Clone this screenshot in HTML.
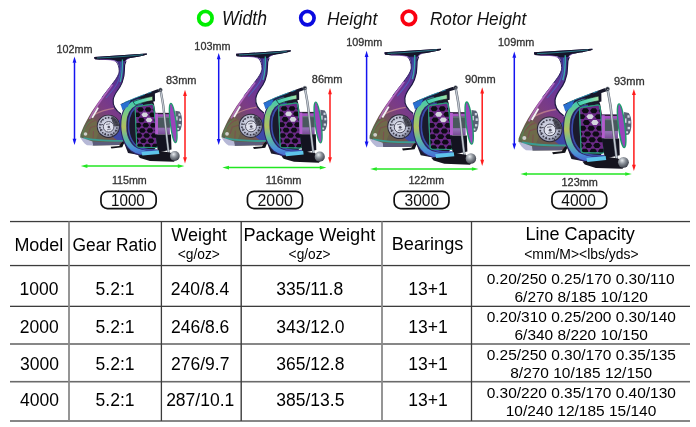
<!DOCTYPE html>
<html><head><meta charset="utf-8"><title>Spinning reel specifications</title>
<style>html,body{margin:0;padding:0;background:#fff;width:696px;height:427px;overflow:hidden}
svg{display:block;will-change:transform} text{font-family:"Liberation Sans",Arial,sans-serif}</style></head>
<body><svg width="696" height="427" viewBox="0 0 696 427">
<defs>
<linearGradient id="gTeal" x1="0" y1="0" x2="1" y2="0">
  <stop offset="0" stop-color="#3ccfb0"/>
  <stop offset="0.6" stop-color="#6adcb4"/>
  <stop offset="1" stop-color="#a8e2a4"/>
</linearGradient>
<clipPath id="cpm0"><path d="M136.8,106.6 L151.5,104.3 Q153.3,104.1 153.6,106 L157.6,145.5 Q157.8,147.6 155.8,147.6 L138.6,147.2 Q136.8,147.1 136.7,145.2 L135.2,108.6 Q135.1,106.9 136.8,106.6 Z"/></clipPath>
<linearGradient id="gBody" x1="0.85" y1="0" x2="0.1" y2="1">
  <stop offset="0" stop-color="#241f52"/>
  <stop offset="0.2" stop-color="#43308a"/>
  <stop offset="0.42" stop-color="#6a3596"/>
  <stop offset="0.62" stop-color="#7c3c84"/>
  <stop offset="0.8" stop-color="#6c5a4c"/>
  <stop offset="1" stop-color="#56684e"/>
</linearGradient>
<linearGradient id="gBand" x1="0" y1="0" x2="1" y2="0.3">
  <stop offset="0" stop-color="#c4c6dc"/>
  <stop offset="0.55" stop-color="#9a9ab8"/>
  <stop offset="1" stop-color="#4a4a60"/>
</linearGradient>
<radialGradient id="gDisc" cx="0.42" cy="0.45" r="0.6">
  <stop offset="0" stop-color="#e4e6f2"/>
  <stop offset="0.7" stop-color="#b4b8cc"/>
  <stop offset="1" stop-color="#7a7e94"/>
</radialGradient>
<linearGradient id="gC1" x1="0" y1="0" x2="0" y2="1">
  <stop offset="0" stop-color="#2a6ec0"/>
  <stop offset="0.35" stop-color="#3a58b0"/>
  <stop offset="0.6" stop-color="#6a50a0"/>
  <stop offset="1" stop-color="#3a3a9a"/>
</linearGradient>
<linearGradient id="gC2" x1="0" y1="0" x2="0" y2="1">
  <stop offset="0" stop-color="#40c8b0"/>
  <stop offset="0.3" stop-color="#8cc878"/>
  <stop offset="0.5" stop-color="#b0c060"/>
  <stop offset="0.72" stop-color="#5cb8a0"/>
  <stop offset="0.9" stop-color="#4a90d8"/>
  <stop offset="1" stop-color="#4a70d0"/>
</linearGradient>
<linearGradient id="gSpool" x1="0" y1="0" x2="0" y2="1">
  <stop offset="0" stop-color="#a850c4"/>
  <stop offset="0.5" stop-color="#9a58b8"/>
  <stop offset="0.75" stop-color="#9070b0"/>
  <stop offset="1" stop-color="#7a4a98"/>
</linearGradient>
<linearGradient id="gFront" x1="0" y1="0" x2="1" y2="0">
  <stop offset="0" stop-color="#8a4aa8"/>
  <stop offset="0.5" stop-color="#b088c8"/>
  <stop offset="1" stop-color="#c8ccd8"/>
</linearGradient>
<radialGradient id="gKnob" cx="0.38" cy="0.32" r="0.72">
  <stop offset="0" stop-color="#e8ecf0"/>
  <stop offset="0.45" stop-color="#8a9098"/>
  <stop offset="1" stop-color="#3a3e48"/>
</radialGradient>
<linearGradient id="gMesh" x1="0" y1="0" x2="0" y2="1">
  <stop offset="0" stop-color="#3aa080"/>
  <stop offset="0.2" stop-color="#a040b0"/>
  <stop offset="1" stop-color="#9a3aa8"/>
</linearGradient>
</defs>
<rect width="696" height="427" fill="#fff"/>
<circle cx="205.4" cy="18.15" r="6.7" fill="none" stroke="#00ee00" stroke-width="3.7"/>
<circle cx="307.4" cy="18.1" r="6.7" fill="none" stroke="#0a0ae0" stroke-width="3.7"/>
<circle cx="408.9" cy="17.9" r="6.7" fill="none" stroke="#fa0010" stroke-width="3.7"/>
<text transform="translate(222.08,25.00) scale(0.912,1)" font-size="19.32" fill="#111" font-style="italic">Width</text>
<text transform="translate(327.07,25.00) scale(0.919,1)" font-size="18.91" fill="#111" font-style="italic">Height</text>
<text transform="translate(429.97,25.00) scale(0.902,1)" font-size="19.04" fill="#111" font-style="italic">Rotor Height</text>
<g transform="translate(0.00,0.00) scale(1.0000)"><path d="M94.3,56.9 L146.8,53.6 L147,54.5 C142,56.2 134,57.3 129.2,58.2 C126.6,58.8 125.3,60.5 124.8,63 C124.4,65.5 124.3,67.5 124.4,70 C124.5,75 123.5,79 122.1,82.6 C120.6,86 119.5,88 118.2,89.5 C116,92.5 113.5,96 113.2,100 C112.8,104 113.6,109 121,114 L128,141 L121,145 L93,145.4 L80.2,137.4 L80.4,134.6 C84,124 92,110 102,97.3 C106,92 110.5,86.5 113.3,82.6 C116.5,78.5 119.3,74 119.2,70.8 C119.1,67 118.6,63.5 116.8,61.5 C115,60.2 112,59.9 108,59.8 C103,59.7 98,59.5 95,59.2 C94.3,58.8 94.1,57.6 94.3,56.9 Z" fill="url(#gBody)"/><path d="M126,61 C124.6,63.5 124.2,66 124.4,70 C124.5,75 123.5,79 122.1,82.6 C120.6,86 119.5,88 118.2,89.5 C116,92.5 113.5,96 113.2,100 C112.8,104 113.6,109 121,114" stroke="#1c1840" stroke-width="1.1" fill="none"/><path d="M115.7,61 C118.2,64 119.1,67 119.2,70.8 C119.3,74 116.5,78.5 113.3,82.6 C110.5,86.5 106,92 102,97.3" stroke="#2a2060" stroke-width="0.9" fill="none"/><path d="M94.3,56.9 L146.8,53.6 L147,54.5 C142,56.2 134,57.3 129.2,58.2 C127,58.7 125.8,59.6 125.2,61 L117.6,61.2 C115.5,60.2 112,59.9 108,59.8 C103,59.7 98,59.5 95,59.2 C94.3,58.8 94.1,57.6 94.3,56.9 Z" fill="#15142a"/><path d="M97,58 C108,57.6 124,56.6 143,54.7" stroke="#36a8b4" stroke-width="0.8" fill="none" opacity="0.8"/><path d="M100,59.3 C108,59.5 114,59.8 117.2,62.5 M129,58.3 C127,58.9 125.8,60 125.2,62" stroke="#7a3ab0" stroke-width="0.7" fill="none" opacity="0.8"/><path d="M122.4,59.5 C122.6,66 122.4,74 120.2,82" stroke="#34c0b0" stroke-width="1.3" fill="none" opacity="0.85"/><path d="M120.8,62 C121.2,68 120.6,76 117,84 C114,89 110,93 106,98" stroke="#3a7ad0" stroke-width="1" fill="none" opacity="0.6"/><path d="M112.5,84.5 C106,93 97,104 89.5,119" stroke="#c478d0" stroke-width="1.6" fill="none" opacity="0.75"/><path d="M94.5,114.5 C100,111.5 106,109.5 114,108.4" stroke="#c88a90" stroke-width="1.3" fill="none" opacity="0.75"/><polygon points="91.4,117.4 97.4,107.2 98.9,108 93,118.2" fill="#f4f4f6"/><path d="M81.5,133.5 C84,127 87.5,122 93,118.5 L96.5,121 L98.5,133 L96,139.5 L84,137.5 Z" fill="#707048" opacity="0.7"/><path d="M85,129 C87.5,124.5 91,121.5 95.5,120.4 M88.5,134 L90.5,127.5 L96.5,125.8 M93,139 L93.5,131" stroke="#804a50" stroke-width="1" fill="none" opacity="0.8"/><path d="M82.5,135.5 C83.5,130 86,125 89.5,121.5" stroke="#4e8a58" stroke-width="1" fill="none" opacity="0.7"/><circle cx="85.5" cy="134" r="1.8" fill="#e8e8ee" opacity="0.8"/><path d="M114,126 C117,122 121,118 126,116 L127.5,140 L119,141.5 L113,137 Z" fill="#3448b4" opacity="0.85"/><path d="M83.5,138.2 C95,140.4 108,141.2 123,140.8" stroke="#3a9c92" stroke-width="1.8" fill="none"/><path d="M80.2,137.3 L92.6,141.4 L93.2,145.4 L87,145.2 C84,143.5 81.8,140.5 80.2,137.3 Z" fill="#b6b8d6"/><path d="M92.6,141.4 L111,142.2 L120,142 L119,145 L93.2,145.4 Z" fill="#5c5c7c"/><path d="M110.6,146.8 L119.2,146.1 L121,143.2 L122.8,141.4 L124.2,142.8 L122.3,147.3 L111.4,148.6 Z" fill="#121218"/><circle cx="108.4" cy="126.3" r="11.6" fill="#2a2838"/><circle cx="108.4" cy="126.3" r="10.7" fill="url(#gDisc)"/><g fill="#3a3a48"><circle cx="116.83" cy="128.01" r="0.85"/><circle cx="115.74" cy="130.79" r="0.85"/><circle cx="113.76" cy="133.03" r="0.85"/><circle cx="111.13" cy="134.45" r="0.85"/><circle cx="108.18" cy="134.90" r="0.85"/><circle cx="105.25" cy="134.30" r="0.85"/><circle cx="102.71" cy="132.75" r="0.85"/><circle cx="100.85" cy="130.41" r="0.85"/><circle cx="99.90" cy="127.58" r="0.85"/><circle cx="99.97" cy="124.59" r="0.85"/><circle cx="101.06" cy="121.81" r="0.85"/><circle cx="103.04" cy="119.57" r="0.85"/><circle cx="105.67" cy="118.15" r="0.85"/><circle cx="108.62" cy="117.70" r="0.85"/><circle cx="111.55" cy="118.30" r="0.85"/><circle cx="114.09" cy="119.85" r="0.85"/><circle cx="115.95" cy="122.19" r="0.85"/><circle cx="116.90" cy="125.02" r="0.85"/></g><path d="M111.5,116 C115.5,117.5 118.6,121.5 119.2,126 L114.5,126.5 L112,121 Z" fill="#34343e" opacity="0.85"/><g fill="none" stroke="#3a3a4a" stroke-width="0.9"><path d="M101,121 L103,119.5 M100,129 L102.5,130 M104,134.5 L106,133 M112,134 L113,136 M115.5,130 L117.5,131 M103,124.5 L100.5,125 M114,121 L116,119"/></g><circle cx="108.6" cy="126.8" r="5.3" fill="#e0e2ee" stroke="#4a4a5a" stroke-width="0.9"/><path d="M106,124.5 L110,123.8 M107,129.8 L111,129" stroke="#6a6a7a" stroke-width="0.8"/><circle cx="108.8" cy="127" r="1.3" fill="#505060"/><path d="M127,104 L152,98 L154,104 L155.5,113 L156,147 L150,157 L128,153 L123,140 Z" fill="#1b1a2c"/><path d="M120.5,104.2 C128,100.5 136,97.3 142.6,94.9 C148,93 153,90.8 157.6,89.3 L160.6,89.6 L160.4,91.6 L154.9,93.4 L155,101.2 L136,105.8 L124.5,109.5 Z" fill="#17172a"/><path d="M124,102.8 C131,99.6 138,96.8 145,94.3 M147.5,93.4 L151.5,92" stroke="#2a9cc0" stroke-width="0.9" fill="none" opacity="0.85"/><path d="M141,101.2 C133,102.4 127.2,106.5 124.6,116.5 C122.6,128 124.2,141 132.8,148.6 C139.5,153.6 149,154 158,153.4" stroke="#2c2468" stroke-width="7" fill="none"/><path d="M141,101.2 C133,102.4 127.2,106.5 124.6,116.5 C122.6,128 124.2,141 132.8,148.6 C139.5,153.6 149,154 158,153.4" stroke="url(#gC2)" stroke-width="5" fill="none"/><path d="M143,104.6 C136.5,105.4 131.2,109.5 129.2,118 C127.6,128 129,139 136,145.5 C142,150 149.5,150.4 157.5,150" stroke="#3a4aa8" stroke-width="1.6" fill="none"/><path d="M136.8,106.6 L151.5,104.3 Q153.3,104.1 153.6,106 L157.6,145.5 Q157.8,147.6 155.8,147.6 L138.6,147.2 Q136.8,147.1 136.7,145.2 L135.2,108.6 Q135.1,106.9 136.8,106.6 Z" fill="#6a2a86" stroke="#2a9a7a" stroke-width="1"/><g clip-path="url(#cpm0)" fill="#0e0c16"><polygon points="143.87,109.60 142.20,111.85 138.85,111.85 137.17,109.60 138.85,107.35 142.20,107.35"/><polygon points="151.47,109.60 149.80,111.85 146.45,111.85 144.77,109.60 146.45,107.35 149.80,107.35"/><polygon points="159.07,109.60 157.40,111.85 154.05,111.85 152.37,109.60 154.05,107.35 157.40,107.35"/><polygon points="140.54,114.80 138.87,117.05 135.52,117.05 133.84,114.80 135.52,112.55 138.87,112.55"/><polygon points="148.14,114.80 146.47,117.05 143.12,117.05 141.44,114.80 143.12,112.55 146.47,112.55" fill="#d4d6de"/><polygon points="155.74,114.80 154.07,117.05 150.72,117.05 149.04,114.80 150.72,112.55 154.07,112.55"/><polygon points="144.81,120.00 143.13,122.25 139.78,122.25 138.11,120.00 139.78,117.75 143.13,117.75"/><polygon points="152.41,120.00 150.73,122.25 147.38,122.25 145.71,120.00 147.38,117.75 150.73,117.75" fill="#d4d6de"/><polygon points="160.01,120.00 158.33,122.25 154.98,122.25 153.31,120.00 154.98,117.75 158.33,117.75"/><polygon points="141.48,125.20 139.80,127.45 136.45,127.45 134.78,125.20 136.45,122.95 139.80,122.95"/><polygon points="149.08,125.20 147.40,127.45 144.05,127.45 142.38,125.20 144.05,122.95 147.40,122.95"/><polygon points="156.68,125.20 155.00,127.45 151.65,127.45 149.98,125.20 151.65,122.95 155.00,122.95"/><polygon points="138.15,130.40 136.47,132.65 133.12,132.65 131.45,130.40 133.12,128.15 136.47,128.15"/><polygon points="145.75,130.40 144.07,132.65 140.72,132.65 139.05,130.40 140.72,128.15 144.07,128.15"/><polygon points="153.35,130.40 151.67,132.65 148.32,132.65 146.65,130.40 148.32,128.15 151.67,128.15"/><polygon points="160.95,130.40 159.27,132.65 155.92,132.65 154.25,130.40 155.92,128.15 159.27,128.15"/><polygon points="142.41,135.60 140.74,137.85 137.39,137.85 135.71,135.60 137.39,133.35 140.74,133.35"/><polygon points="150.01,135.60 148.34,137.85 144.99,137.85 143.31,135.60 144.99,133.35 148.34,133.35"/><polygon points="157.61,135.60 155.94,137.85 152.59,137.85 150.91,135.60 152.59,133.35 155.94,133.35"/><polygon points="139.08,140.80 137.41,143.05 134.06,143.05 132.38,140.80 134.06,138.55 137.41,138.55"/><polygon points="146.68,140.80 145.01,143.05 141.66,143.05 139.98,140.80 141.66,138.55 145.01,138.55"/><polygon points="154.28,140.80 152.61,143.05 149.26,143.05 147.58,140.80 149.26,138.55 152.61,138.55"/><polygon points="143.35,146.00 141.68,148.25 138.32,148.25 136.65,146.00 138.32,143.75 141.68,143.75"/><polygon points="150.95,146.00 149.28,148.25 145.92,148.25 144.25,146.00 145.92,143.75 149.28,143.75"/><polygon points="158.55,146.00 156.88,148.25 153.52,148.25 151.85,146.00 153.52,143.75 156.88,143.75"/></g><path d="M136.8,106.6 L151.5,104.3 Q153.3,104.1 153.6,106 L157.6,145.5 Q157.8,147.6 155.8,147.6 L138.6,147.2 Q136.8,147.1 136.7,145.2 L135.2,108.6 Q135.1,106.9 136.8,106.6 Z" fill="none" stroke="#2a9a7a" stroke-width="1"/><path d="M133,101.7 C139,99.4 146,97.6 152.6,96.3 L152.8,100.5 C146.5,101.5 140.5,103 135.4,105.2 Z" fill="url(#gTeal)" stroke="#101018" stroke-width="0.6"/><path d="M120.6,104.3 L130.5,100.6 L128,106.2 L122.6,110.4 Z" fill="#2a70d0"/><rect x="155.3" y="112.9" width="14.6" height="21.6" fill="url(#gSpool)"/><rect x="155.3" y="112.9" width="14.6" height="1.3" fill="#2a2434"/><rect x="158" y="116.8" width="11.9" height="10.9" fill="#4a585e"/><rect x="158" y="116.8" width="11.9" height="1.2" fill="#7a8890" opacity="0.7"/><rect x="155.3" y="113.5" width="2.7" height="20.8" fill="#b25ccc"/><path d="M155.5,134.5 L171,134.5 L171.5,149.5 L158,152.5 Z" fill="#131320"/><path d="M175.4,110.7 L179.6,111.6 C181.2,113.5 182,117 182,121.2 C182,125.5 181.2,129.3 179.6,131 L175.4,131.8 Z" fill="#586074"/><g fill="#d0d6e2"><rect x="178.4" y="113.6" width="2" height="2.2"/><rect x="179.2" y="118.6" width="2" height="2.4"/><rect x="178.6" y="124" width="2.2" height="2.2"/><rect x="177" y="128" width="2" height="1.8"/><rect x="176.2" y="116.4" width="1.4" height="4"/></g><ellipse cx="173.2" cy="123" rx="2.9" ry="19.8" transform="rotate(-7 173.2 123)" fill="#9a44bc" stroke="#1f9a6c" stroke-width="1.2"/><path d="M160.6,90.5 C161.6,96 162.6,101 163.3,106 C164.5,116 166,132 169,155" stroke="#5e6672" stroke-width="2.3" fill="none"/><path d="M160.6,90.5 C161.6,96 162.6,101 163.3,106 C164.5,116 166,132 169,155" stroke="#c4cad2" stroke-width="1.3" fill="none"/><circle cx="160.5" cy="89.9" r="1.8" fill="#1c202a" stroke="#7a8290" stroke-width="0.5"/><circle cx="160.8" cy="90.2" r="0.6" fill="#c8ccd8"/><path d="M138,155.5 L160,151 L170,152.5 L177,158 L174,161.8 L150,161 L140,158 Z" fill="#15141e"/><path d="M141.5,152 L158.8,150.2 L159.3,154 L142.3,155.6 Z" fill="#5ec4ea"/><circle cx="174.8" cy="156" r="4.9" fill="url(#gKnob)"/></g>
<g transform="translate(138.25,-5.30) scale(1.0383)"><path d="M94.3,56.9 L146.8,53.6 L147,54.5 C142,56.2 134,57.3 129.2,58.2 C126.6,58.8 125.3,60.5 124.8,63 C124.4,65.5 124.3,67.5 124.4,70 C124.5,75 123.5,79 122.1,82.6 C120.6,86 119.5,88 118.2,89.5 C116,92.5 113.5,96 113.2,100 C112.8,104 113.6,109 121,114 L128,141 L121,145 L93,145.4 L80.2,137.4 L80.4,134.6 C84,124 92,110 102,97.3 C106,92 110.5,86.5 113.3,82.6 C116.5,78.5 119.3,74 119.2,70.8 C119.1,67 118.6,63.5 116.8,61.5 C115,60.2 112,59.9 108,59.8 C103,59.7 98,59.5 95,59.2 C94.3,58.8 94.1,57.6 94.3,56.9 Z" fill="url(#gBody)"/><path d="M126,61 C124.6,63.5 124.2,66 124.4,70 C124.5,75 123.5,79 122.1,82.6 C120.6,86 119.5,88 118.2,89.5 C116,92.5 113.5,96 113.2,100 C112.8,104 113.6,109 121,114" stroke="#1c1840" stroke-width="1.1" fill="none"/><path d="M115.7,61 C118.2,64 119.1,67 119.2,70.8 C119.3,74 116.5,78.5 113.3,82.6 C110.5,86.5 106,92 102,97.3" stroke="#2a2060" stroke-width="0.9" fill="none"/><path d="M94.3,56.9 L146.8,53.6 L147,54.5 C142,56.2 134,57.3 129.2,58.2 C127,58.7 125.8,59.6 125.2,61 L117.6,61.2 C115.5,60.2 112,59.9 108,59.8 C103,59.7 98,59.5 95,59.2 C94.3,58.8 94.1,57.6 94.3,56.9 Z" fill="#15142a"/><path d="M97,58 C108,57.6 124,56.6 143,54.7" stroke="#36a8b4" stroke-width="0.8" fill="none" opacity="0.8"/><path d="M100,59.3 C108,59.5 114,59.8 117.2,62.5 M129,58.3 C127,58.9 125.8,60 125.2,62" stroke="#7a3ab0" stroke-width="0.7" fill="none" opacity="0.8"/><path d="M122.4,59.5 C122.6,66 122.4,74 120.2,82" stroke="#34c0b0" stroke-width="1.3" fill="none" opacity="0.85"/><path d="M120.8,62 C121.2,68 120.6,76 117,84 C114,89 110,93 106,98" stroke="#3a7ad0" stroke-width="1" fill="none" opacity="0.6"/><path d="M112.5,84.5 C106,93 97,104 89.5,119" stroke="#c478d0" stroke-width="1.6" fill="none" opacity="0.75"/><path d="M94.5,114.5 C100,111.5 106,109.5 114,108.4" stroke="#c88a90" stroke-width="1.3" fill="none" opacity="0.75"/><polygon points="91.4,117.4 97.4,107.2 98.9,108 93,118.2" fill="#f4f4f6"/><path d="M81.5,133.5 C84,127 87.5,122 93,118.5 L96.5,121 L98.5,133 L96,139.5 L84,137.5 Z" fill="#707048" opacity="0.7"/><path d="M85,129 C87.5,124.5 91,121.5 95.5,120.4 M88.5,134 L90.5,127.5 L96.5,125.8 M93,139 L93.5,131" stroke="#804a50" stroke-width="1" fill="none" opacity="0.8"/><path d="M82.5,135.5 C83.5,130 86,125 89.5,121.5" stroke="#4e8a58" stroke-width="1" fill="none" opacity="0.7"/><circle cx="85.5" cy="134" r="1.8" fill="#e8e8ee" opacity="0.8"/><path d="M114,126 C117,122 121,118 126,116 L127.5,140 L119,141.5 L113,137 Z" fill="#3448b4" opacity="0.85"/><path d="M83.5,138.2 C95,140.4 108,141.2 123,140.8" stroke="#3a9c92" stroke-width="1.8" fill="none"/><path d="M80.2,137.3 L92.6,141.4 L93.2,145.4 L87,145.2 C84,143.5 81.8,140.5 80.2,137.3 Z" fill="#b6b8d6"/><path d="M92.6,141.4 L111,142.2 L120,142 L119,145 L93.2,145.4 Z" fill="#5c5c7c"/><path d="M110.6,146.8 L119.2,146.1 L121,143.2 L122.8,141.4 L124.2,142.8 L122.3,147.3 L111.4,148.6 Z" fill="#121218"/><circle cx="108.4" cy="126.3" r="11.6" fill="#2a2838"/><circle cx="108.4" cy="126.3" r="10.7" fill="url(#gDisc)"/><g fill="#3a3a48"><circle cx="116.83" cy="128.01" r="0.85"/><circle cx="115.74" cy="130.79" r="0.85"/><circle cx="113.76" cy="133.03" r="0.85"/><circle cx="111.13" cy="134.45" r="0.85"/><circle cx="108.18" cy="134.90" r="0.85"/><circle cx="105.25" cy="134.30" r="0.85"/><circle cx="102.71" cy="132.75" r="0.85"/><circle cx="100.85" cy="130.41" r="0.85"/><circle cx="99.90" cy="127.58" r="0.85"/><circle cx="99.97" cy="124.59" r="0.85"/><circle cx="101.06" cy="121.81" r="0.85"/><circle cx="103.04" cy="119.57" r="0.85"/><circle cx="105.67" cy="118.15" r="0.85"/><circle cx="108.62" cy="117.70" r="0.85"/><circle cx="111.55" cy="118.30" r="0.85"/><circle cx="114.09" cy="119.85" r="0.85"/><circle cx="115.95" cy="122.19" r="0.85"/><circle cx="116.90" cy="125.02" r="0.85"/></g><path d="M111.5,116 C115.5,117.5 118.6,121.5 119.2,126 L114.5,126.5 L112,121 Z" fill="#34343e" opacity="0.85"/><g fill="none" stroke="#3a3a4a" stroke-width="0.9"><path d="M101,121 L103,119.5 M100,129 L102.5,130 M104,134.5 L106,133 M112,134 L113,136 M115.5,130 L117.5,131 M103,124.5 L100.5,125 M114,121 L116,119"/></g><circle cx="108.6" cy="126.8" r="5.3" fill="#e0e2ee" stroke="#4a4a5a" stroke-width="0.9"/><path d="M106,124.5 L110,123.8 M107,129.8 L111,129" stroke="#6a6a7a" stroke-width="0.8"/><circle cx="108.8" cy="127" r="1.3" fill="#505060"/><path d="M127,104 L152,98 L154,104 L155.5,113 L156,147 L150,157 L128,153 L123,140 Z" fill="#1b1a2c"/><path d="M120.5,104.2 C128,100.5 136,97.3 142.6,94.9 C148,93 153,90.8 157.6,89.3 L160.6,89.6 L160.4,91.6 L154.9,93.4 L155,101.2 L136,105.8 L124.5,109.5 Z" fill="#17172a"/><path d="M124,102.8 C131,99.6 138,96.8 145,94.3 M147.5,93.4 L151.5,92" stroke="#2a9cc0" stroke-width="0.9" fill="none" opacity="0.85"/><path d="M141,101.2 C133,102.4 127.2,106.5 124.6,116.5 C122.6,128 124.2,141 132.8,148.6 C139.5,153.6 149,154 158,153.4" stroke="#2c2468" stroke-width="7" fill="none"/><path d="M141,101.2 C133,102.4 127.2,106.5 124.6,116.5 C122.6,128 124.2,141 132.8,148.6 C139.5,153.6 149,154 158,153.4" stroke="url(#gC2)" stroke-width="5" fill="none"/><path d="M143,104.6 C136.5,105.4 131.2,109.5 129.2,118 C127.6,128 129,139 136,145.5 C142,150 149.5,150.4 157.5,150" stroke="#3a4aa8" stroke-width="1.6" fill="none"/><path d="M136.8,106.6 L151.5,104.3 Q153.3,104.1 153.6,106 L157.6,145.5 Q157.8,147.6 155.8,147.6 L138.6,147.2 Q136.8,147.1 136.7,145.2 L135.2,108.6 Q135.1,106.9 136.8,106.6 Z" fill="#6a2a86" stroke="#2a9a7a" stroke-width="1"/><g clip-path="url(#cpm0)" fill="#0e0c16"><polygon points="143.87,109.60 142.20,111.85 138.85,111.85 137.17,109.60 138.85,107.35 142.20,107.35"/><polygon points="151.47,109.60 149.80,111.85 146.45,111.85 144.77,109.60 146.45,107.35 149.80,107.35"/><polygon points="159.07,109.60 157.40,111.85 154.05,111.85 152.37,109.60 154.05,107.35 157.40,107.35"/><polygon points="140.54,114.80 138.87,117.05 135.52,117.05 133.84,114.80 135.52,112.55 138.87,112.55"/><polygon points="148.14,114.80 146.47,117.05 143.12,117.05 141.44,114.80 143.12,112.55 146.47,112.55" fill="#d4d6de"/><polygon points="155.74,114.80 154.07,117.05 150.72,117.05 149.04,114.80 150.72,112.55 154.07,112.55"/><polygon points="144.81,120.00 143.13,122.25 139.78,122.25 138.11,120.00 139.78,117.75 143.13,117.75"/><polygon points="152.41,120.00 150.73,122.25 147.38,122.25 145.71,120.00 147.38,117.75 150.73,117.75" fill="#d4d6de"/><polygon points="160.01,120.00 158.33,122.25 154.98,122.25 153.31,120.00 154.98,117.75 158.33,117.75"/><polygon points="141.48,125.20 139.80,127.45 136.45,127.45 134.78,125.20 136.45,122.95 139.80,122.95"/><polygon points="149.08,125.20 147.40,127.45 144.05,127.45 142.38,125.20 144.05,122.95 147.40,122.95"/><polygon points="156.68,125.20 155.00,127.45 151.65,127.45 149.98,125.20 151.65,122.95 155.00,122.95"/><polygon points="138.15,130.40 136.47,132.65 133.12,132.65 131.45,130.40 133.12,128.15 136.47,128.15"/><polygon points="145.75,130.40 144.07,132.65 140.72,132.65 139.05,130.40 140.72,128.15 144.07,128.15"/><polygon points="153.35,130.40 151.67,132.65 148.32,132.65 146.65,130.40 148.32,128.15 151.67,128.15"/><polygon points="160.95,130.40 159.27,132.65 155.92,132.65 154.25,130.40 155.92,128.15 159.27,128.15"/><polygon points="142.41,135.60 140.74,137.85 137.39,137.85 135.71,135.60 137.39,133.35 140.74,133.35"/><polygon points="150.01,135.60 148.34,137.85 144.99,137.85 143.31,135.60 144.99,133.35 148.34,133.35"/><polygon points="157.61,135.60 155.94,137.85 152.59,137.85 150.91,135.60 152.59,133.35 155.94,133.35"/><polygon points="139.08,140.80 137.41,143.05 134.06,143.05 132.38,140.80 134.06,138.55 137.41,138.55"/><polygon points="146.68,140.80 145.01,143.05 141.66,143.05 139.98,140.80 141.66,138.55 145.01,138.55"/><polygon points="154.28,140.80 152.61,143.05 149.26,143.05 147.58,140.80 149.26,138.55 152.61,138.55"/><polygon points="143.35,146.00 141.68,148.25 138.32,148.25 136.65,146.00 138.32,143.75 141.68,143.75"/><polygon points="150.95,146.00 149.28,148.25 145.92,148.25 144.25,146.00 145.92,143.75 149.28,143.75"/><polygon points="158.55,146.00 156.88,148.25 153.52,148.25 151.85,146.00 153.52,143.75 156.88,143.75"/></g><path d="M136.8,106.6 L151.5,104.3 Q153.3,104.1 153.6,106 L157.6,145.5 Q157.8,147.6 155.8,147.6 L138.6,147.2 Q136.8,147.1 136.7,145.2 L135.2,108.6 Q135.1,106.9 136.8,106.6 Z" fill="none" stroke="#2a9a7a" stroke-width="1"/><path d="M133,101.7 C139,99.4 146,97.6 152.6,96.3 L152.8,100.5 C146.5,101.5 140.5,103 135.4,105.2 Z" fill="url(#gTeal)" stroke="#101018" stroke-width="0.6"/><path d="M120.6,104.3 L130.5,100.6 L128,106.2 L122.6,110.4 Z" fill="#2a70d0"/><rect x="155.3" y="112.9" width="14.6" height="21.6" fill="url(#gSpool)"/><rect x="155.3" y="112.9" width="14.6" height="1.3" fill="#2a2434"/><rect x="158" y="116.8" width="11.9" height="10.9" fill="#4a585e"/><rect x="158" y="116.8" width="11.9" height="1.2" fill="#7a8890" opacity="0.7"/><rect x="155.3" y="113.5" width="2.7" height="20.8" fill="#b25ccc"/><path d="M155.5,134.5 L171,134.5 L171.5,149.5 L158,152.5 Z" fill="#131320"/><path d="M175.4,110.7 L179.6,111.6 C181.2,113.5 182,117 182,121.2 C182,125.5 181.2,129.3 179.6,131 L175.4,131.8 Z" fill="#586074"/><g fill="#d0d6e2"><rect x="178.4" y="113.6" width="2" height="2.2"/><rect x="179.2" y="118.6" width="2" height="2.4"/><rect x="178.6" y="124" width="2.2" height="2.2"/><rect x="177" y="128" width="2" height="1.8"/><rect x="176.2" y="116.4" width="1.4" height="4"/></g><ellipse cx="173.2" cy="123" rx="2.9" ry="19.8" transform="rotate(-7 173.2 123)" fill="#9a44bc" stroke="#1f9a6c" stroke-width="1.2"/><path d="M160.6,90.5 C161.6,96 162.6,101 163.3,106 C164.5,116 166,132 169,155" stroke="#5e6672" stroke-width="2.3" fill="none"/><path d="M160.6,90.5 C161.6,96 162.6,101 163.3,106 C164.5,116 166,132 169,155" stroke="#c4cad2" stroke-width="1.3" fill="none"/><circle cx="160.5" cy="89.9" r="1.8" fill="#1c202a" stroke="#7a8290" stroke-width="0.5"/><circle cx="160.8" cy="90.2" r="0.6" fill="#c8ccd8"/><path d="M138,155.5 L160,151 L170,152.5 L177,158 L174,161.8 L150,161 L140,158 Z" fill="#15141e"/><path d="M141.5,152 L158.8,150.2 L159.3,154 L142.3,155.6 Z" fill="#5ec4ea"/><circle cx="174.8" cy="156" r="4.9" fill="url(#gKnob)"/></g>
<g transform="translate(283.49,-8.80) scale(1.0722)"><path d="M94.3,56.9 L146.8,53.6 L147,54.5 C142,56.2 134,57.3 129.2,58.2 C126.6,58.8 125.3,60.5 124.8,63 C124.4,65.5 124.3,67.5 124.4,70 C124.5,75 123.5,79 122.1,82.6 C120.6,86 119.5,88 118.2,89.5 C116,92.5 113.5,96 113.2,100 C112.8,104 113.6,109 121,114 L128,141 L121,145 L93,145.4 L80.2,137.4 L80.4,134.6 C84,124 92,110 102,97.3 C106,92 110.5,86.5 113.3,82.6 C116.5,78.5 119.3,74 119.2,70.8 C119.1,67 118.6,63.5 116.8,61.5 C115,60.2 112,59.9 108,59.8 C103,59.7 98,59.5 95,59.2 C94.3,58.8 94.1,57.6 94.3,56.9 Z" fill="url(#gBody)"/><path d="M126,61 C124.6,63.5 124.2,66 124.4,70 C124.5,75 123.5,79 122.1,82.6 C120.6,86 119.5,88 118.2,89.5 C116,92.5 113.5,96 113.2,100 C112.8,104 113.6,109 121,114" stroke="#1c1840" stroke-width="1.1" fill="none"/><path d="M115.7,61 C118.2,64 119.1,67 119.2,70.8 C119.3,74 116.5,78.5 113.3,82.6 C110.5,86.5 106,92 102,97.3" stroke="#2a2060" stroke-width="0.9" fill="none"/><path d="M94.3,56.9 L146.8,53.6 L147,54.5 C142,56.2 134,57.3 129.2,58.2 C127,58.7 125.8,59.6 125.2,61 L117.6,61.2 C115.5,60.2 112,59.9 108,59.8 C103,59.7 98,59.5 95,59.2 C94.3,58.8 94.1,57.6 94.3,56.9 Z" fill="#15142a"/><path d="M97,58 C108,57.6 124,56.6 143,54.7" stroke="#36a8b4" stroke-width="0.8" fill="none" opacity="0.8"/><path d="M100,59.3 C108,59.5 114,59.8 117.2,62.5 M129,58.3 C127,58.9 125.8,60 125.2,62" stroke="#7a3ab0" stroke-width="0.7" fill="none" opacity="0.8"/><path d="M122.4,59.5 C122.6,66 122.4,74 120.2,82" stroke="#34c0b0" stroke-width="1.3" fill="none" opacity="0.85"/><path d="M120.8,62 C121.2,68 120.6,76 117,84 C114,89 110,93 106,98" stroke="#3a7ad0" stroke-width="1" fill="none" opacity="0.6"/><path d="M112.5,84.5 C106,93 97,104 89.5,119" stroke="#c478d0" stroke-width="1.6" fill="none" opacity="0.75"/><path d="M94.5,114.5 C100,111.5 106,109.5 114,108.4" stroke="#c88a90" stroke-width="1.3" fill="none" opacity="0.75"/><polygon points="91.4,117.4 97.4,107.2 98.9,108 93,118.2" fill="#f4f4f6"/><path d="M81.5,133.5 C84,127 87.5,122 93,118.5 L96.5,121 L98.5,133 L96,139.5 L84,137.5 Z" fill="#707048" opacity="0.7"/><path d="M85,129 C87.5,124.5 91,121.5 95.5,120.4 M88.5,134 L90.5,127.5 L96.5,125.8 M93,139 L93.5,131" stroke="#804a50" stroke-width="1" fill="none" opacity="0.8"/><path d="M82.5,135.5 C83.5,130 86,125 89.5,121.5" stroke="#4e8a58" stroke-width="1" fill="none" opacity="0.7"/><circle cx="85.5" cy="134" r="1.8" fill="#e8e8ee" opacity="0.8"/><path d="M114,126 C117,122 121,118 126,116 L127.5,140 L119,141.5 L113,137 Z" fill="#3448b4" opacity="0.85"/><path d="M83.5,138.2 C95,140.4 108,141.2 123,140.8" stroke="#3a9c92" stroke-width="1.8" fill="none"/><path d="M80.2,137.3 L92.6,141.4 L93.2,145.4 L87,145.2 C84,143.5 81.8,140.5 80.2,137.3 Z" fill="#b6b8d6"/><path d="M92.6,141.4 L111,142.2 L120,142 L119,145 L93.2,145.4 Z" fill="#5c5c7c"/><path d="M110.6,146.8 L119.2,146.1 L121,143.2 L122.8,141.4 L124.2,142.8 L122.3,147.3 L111.4,148.6 Z" fill="#121218"/><circle cx="108.4" cy="126.3" r="11.6" fill="#2a2838"/><circle cx="108.4" cy="126.3" r="10.7" fill="url(#gDisc)"/><g fill="#3a3a48"><circle cx="116.83" cy="128.01" r="0.85"/><circle cx="115.74" cy="130.79" r="0.85"/><circle cx="113.76" cy="133.03" r="0.85"/><circle cx="111.13" cy="134.45" r="0.85"/><circle cx="108.18" cy="134.90" r="0.85"/><circle cx="105.25" cy="134.30" r="0.85"/><circle cx="102.71" cy="132.75" r="0.85"/><circle cx="100.85" cy="130.41" r="0.85"/><circle cx="99.90" cy="127.58" r="0.85"/><circle cx="99.97" cy="124.59" r="0.85"/><circle cx="101.06" cy="121.81" r="0.85"/><circle cx="103.04" cy="119.57" r="0.85"/><circle cx="105.67" cy="118.15" r="0.85"/><circle cx="108.62" cy="117.70" r="0.85"/><circle cx="111.55" cy="118.30" r="0.85"/><circle cx="114.09" cy="119.85" r="0.85"/><circle cx="115.95" cy="122.19" r="0.85"/><circle cx="116.90" cy="125.02" r="0.85"/></g><path d="M111.5,116 C115.5,117.5 118.6,121.5 119.2,126 L114.5,126.5 L112,121 Z" fill="#34343e" opacity="0.85"/><g fill="none" stroke="#3a3a4a" stroke-width="0.9"><path d="M101,121 L103,119.5 M100,129 L102.5,130 M104,134.5 L106,133 M112,134 L113,136 M115.5,130 L117.5,131 M103,124.5 L100.5,125 M114,121 L116,119"/></g><circle cx="108.6" cy="126.8" r="5.3" fill="#e0e2ee" stroke="#4a4a5a" stroke-width="0.9"/><path d="M106,124.5 L110,123.8 M107,129.8 L111,129" stroke="#6a6a7a" stroke-width="0.8"/><circle cx="108.8" cy="127" r="1.3" fill="#505060"/><path d="M127,104 L152,98 L154,104 L155.5,113 L156,147 L150,157 L128,153 L123,140 Z" fill="#1b1a2c"/><path d="M120.5,104.2 C128,100.5 136,97.3 142.6,94.9 C148,93 153,90.8 157.6,89.3 L160.6,89.6 L160.4,91.6 L154.9,93.4 L155,101.2 L136,105.8 L124.5,109.5 Z" fill="#17172a"/><path d="M124,102.8 C131,99.6 138,96.8 145,94.3 M147.5,93.4 L151.5,92" stroke="#2a9cc0" stroke-width="0.9" fill="none" opacity="0.85"/><path d="M141,101.2 C133,102.4 127.2,106.5 124.6,116.5 C122.6,128 124.2,141 132.8,148.6 C139.5,153.6 149,154 158,153.4" stroke="#2c2468" stroke-width="7" fill="none"/><path d="M141,101.2 C133,102.4 127.2,106.5 124.6,116.5 C122.6,128 124.2,141 132.8,148.6 C139.5,153.6 149,154 158,153.4" stroke="url(#gC2)" stroke-width="5" fill="none"/><path d="M143,104.6 C136.5,105.4 131.2,109.5 129.2,118 C127.6,128 129,139 136,145.5 C142,150 149.5,150.4 157.5,150" stroke="#3a4aa8" stroke-width="1.6" fill="none"/><path d="M136.8,106.6 L151.5,104.3 Q153.3,104.1 153.6,106 L157.6,145.5 Q157.8,147.6 155.8,147.6 L138.6,147.2 Q136.8,147.1 136.7,145.2 L135.2,108.6 Q135.1,106.9 136.8,106.6 Z" fill="#6a2a86" stroke="#2a9a7a" stroke-width="1"/><g clip-path="url(#cpm0)" fill="#0e0c16"><polygon points="143.87,109.60 142.20,111.85 138.85,111.85 137.17,109.60 138.85,107.35 142.20,107.35"/><polygon points="151.47,109.60 149.80,111.85 146.45,111.85 144.77,109.60 146.45,107.35 149.80,107.35"/><polygon points="159.07,109.60 157.40,111.85 154.05,111.85 152.37,109.60 154.05,107.35 157.40,107.35"/><polygon points="140.54,114.80 138.87,117.05 135.52,117.05 133.84,114.80 135.52,112.55 138.87,112.55"/><polygon points="148.14,114.80 146.47,117.05 143.12,117.05 141.44,114.80 143.12,112.55 146.47,112.55" fill="#d4d6de"/><polygon points="155.74,114.80 154.07,117.05 150.72,117.05 149.04,114.80 150.72,112.55 154.07,112.55"/><polygon points="144.81,120.00 143.13,122.25 139.78,122.25 138.11,120.00 139.78,117.75 143.13,117.75"/><polygon points="152.41,120.00 150.73,122.25 147.38,122.25 145.71,120.00 147.38,117.75 150.73,117.75" fill="#d4d6de"/><polygon points="160.01,120.00 158.33,122.25 154.98,122.25 153.31,120.00 154.98,117.75 158.33,117.75"/><polygon points="141.48,125.20 139.80,127.45 136.45,127.45 134.78,125.20 136.45,122.95 139.80,122.95"/><polygon points="149.08,125.20 147.40,127.45 144.05,127.45 142.38,125.20 144.05,122.95 147.40,122.95"/><polygon points="156.68,125.20 155.00,127.45 151.65,127.45 149.98,125.20 151.65,122.95 155.00,122.95"/><polygon points="138.15,130.40 136.47,132.65 133.12,132.65 131.45,130.40 133.12,128.15 136.47,128.15"/><polygon points="145.75,130.40 144.07,132.65 140.72,132.65 139.05,130.40 140.72,128.15 144.07,128.15"/><polygon points="153.35,130.40 151.67,132.65 148.32,132.65 146.65,130.40 148.32,128.15 151.67,128.15"/><polygon points="160.95,130.40 159.27,132.65 155.92,132.65 154.25,130.40 155.92,128.15 159.27,128.15"/><polygon points="142.41,135.60 140.74,137.85 137.39,137.85 135.71,135.60 137.39,133.35 140.74,133.35"/><polygon points="150.01,135.60 148.34,137.85 144.99,137.85 143.31,135.60 144.99,133.35 148.34,133.35"/><polygon points="157.61,135.60 155.94,137.85 152.59,137.85 150.91,135.60 152.59,133.35 155.94,133.35"/><polygon points="139.08,140.80 137.41,143.05 134.06,143.05 132.38,140.80 134.06,138.55 137.41,138.55"/><polygon points="146.68,140.80 145.01,143.05 141.66,143.05 139.98,140.80 141.66,138.55 145.01,138.55"/><polygon points="154.28,140.80 152.61,143.05 149.26,143.05 147.58,140.80 149.26,138.55 152.61,138.55"/><polygon points="143.35,146.00 141.68,148.25 138.32,148.25 136.65,146.00 138.32,143.75 141.68,143.75"/><polygon points="150.95,146.00 149.28,148.25 145.92,148.25 144.25,146.00 145.92,143.75 149.28,143.75"/><polygon points="158.55,146.00 156.88,148.25 153.52,148.25 151.85,146.00 153.52,143.75 156.88,143.75"/></g><path d="M136.8,106.6 L151.5,104.3 Q153.3,104.1 153.6,106 L157.6,145.5 Q157.8,147.6 155.8,147.6 L138.6,147.2 Q136.8,147.1 136.7,145.2 L135.2,108.6 Q135.1,106.9 136.8,106.6 Z" fill="none" stroke="#2a9a7a" stroke-width="1"/><path d="M133,101.7 C139,99.4 146,97.6 152.6,96.3 L152.8,100.5 C146.5,101.5 140.5,103 135.4,105.2 Z" fill="url(#gTeal)" stroke="#101018" stroke-width="0.6"/><path d="M120.6,104.3 L130.5,100.6 L128,106.2 L122.6,110.4 Z" fill="#2a70d0"/><rect x="155.3" y="112.9" width="14.6" height="21.6" fill="url(#gSpool)"/><rect x="155.3" y="112.9" width="14.6" height="1.3" fill="#2a2434"/><rect x="158" y="116.8" width="11.9" height="10.9" fill="#4a585e"/><rect x="158" y="116.8" width="11.9" height="1.2" fill="#7a8890" opacity="0.7"/><rect x="155.3" y="113.5" width="2.7" height="20.8" fill="#b25ccc"/><path d="M155.5,134.5 L171,134.5 L171.5,149.5 L158,152.5 Z" fill="#131320"/><path d="M175.4,110.7 L179.6,111.6 C181.2,113.5 182,117 182,121.2 C182,125.5 181.2,129.3 179.6,131 L175.4,131.8 Z" fill="#586074"/><g fill="#d0d6e2"><rect x="178.4" y="113.6" width="2" height="2.2"/><rect x="179.2" y="118.6" width="2" height="2.4"/><rect x="178.6" y="124" width="2.2" height="2.2"/><rect x="177" y="128" width="2" height="1.8"/><rect x="176.2" y="116.4" width="1.4" height="4"/></g><ellipse cx="173.2" cy="123" rx="2.9" ry="19.8" transform="rotate(-7 173.2 123)" fill="#9a44bc" stroke="#1f9a6c" stroke-width="1.2"/><path d="M160.6,90.5 C161.6,96 162.6,101 163.3,106 C164.5,116 166,132 169,155" stroke="#5e6672" stroke-width="2.3" fill="none"/><path d="M160.6,90.5 C161.6,96 162.6,101 163.3,106 C164.5,116 166,132 169,155" stroke="#c4cad2" stroke-width="1.3" fill="none"/><circle cx="160.5" cy="89.9" r="1.8" fill="#1c202a" stroke="#7a8290" stroke-width="0.5"/><circle cx="160.8" cy="90.2" r="0.6" fill="#c8ccd8"/><path d="M138,155.5 L160,151 L170,152.5 L177,158 L174,161.8 L150,161 L140,158 Z" fill="#15141e"/><path d="M141.5,152 L158.8,150.2 L159.3,154 L142.3,155.6 Z" fill="#5ec4ea"/><circle cx="174.8" cy="156" r="4.9" fill="url(#gKnob)"/></g>
<g transform="translate(429.43,-10.77) scale(1.1097)"><path d="M94.3,56.9 L146.8,53.6 L147,54.5 C142,56.2 134,57.3 129.2,58.2 C126.6,58.8 125.3,60.5 124.8,63 C124.4,65.5 124.3,67.5 124.4,70 C124.5,75 123.5,79 122.1,82.6 C120.6,86 119.5,88 118.2,89.5 C116,92.5 113.5,96 113.2,100 C112.8,104 113.6,109 121,114 L128,141 L121,145 L93,145.4 L80.2,137.4 L80.4,134.6 C84,124 92,110 102,97.3 C106,92 110.5,86.5 113.3,82.6 C116.5,78.5 119.3,74 119.2,70.8 C119.1,67 118.6,63.5 116.8,61.5 C115,60.2 112,59.9 108,59.8 C103,59.7 98,59.5 95,59.2 C94.3,58.8 94.1,57.6 94.3,56.9 Z" fill="url(#gBody)"/><path d="M126,61 C124.6,63.5 124.2,66 124.4,70 C124.5,75 123.5,79 122.1,82.6 C120.6,86 119.5,88 118.2,89.5 C116,92.5 113.5,96 113.2,100 C112.8,104 113.6,109 121,114" stroke="#1c1840" stroke-width="1.1" fill="none"/><path d="M115.7,61 C118.2,64 119.1,67 119.2,70.8 C119.3,74 116.5,78.5 113.3,82.6 C110.5,86.5 106,92 102,97.3" stroke="#2a2060" stroke-width="0.9" fill="none"/><path d="M94.3,56.9 L146.8,53.6 L147,54.5 C142,56.2 134,57.3 129.2,58.2 C127,58.7 125.8,59.6 125.2,61 L117.6,61.2 C115.5,60.2 112,59.9 108,59.8 C103,59.7 98,59.5 95,59.2 C94.3,58.8 94.1,57.6 94.3,56.9 Z" fill="#15142a"/><path d="M97,58 C108,57.6 124,56.6 143,54.7" stroke="#36a8b4" stroke-width="0.8" fill="none" opacity="0.8"/><path d="M100,59.3 C108,59.5 114,59.8 117.2,62.5 M129,58.3 C127,58.9 125.8,60 125.2,62" stroke="#7a3ab0" stroke-width="0.7" fill="none" opacity="0.8"/><path d="M122.4,59.5 C122.6,66 122.4,74 120.2,82" stroke="#34c0b0" stroke-width="1.3" fill="none" opacity="0.85"/><path d="M120.8,62 C121.2,68 120.6,76 117,84 C114,89 110,93 106,98" stroke="#3a7ad0" stroke-width="1" fill="none" opacity="0.6"/><path d="M112.5,84.5 C106,93 97,104 89.5,119" stroke="#c478d0" stroke-width="1.6" fill="none" opacity="0.75"/><path d="M94.5,114.5 C100,111.5 106,109.5 114,108.4" stroke="#c88a90" stroke-width="1.3" fill="none" opacity="0.75"/><polygon points="91.4,117.4 97.4,107.2 98.9,108 93,118.2" fill="#f4f4f6"/><path d="M81.5,133.5 C84,127 87.5,122 93,118.5 L96.5,121 L98.5,133 L96,139.5 L84,137.5 Z" fill="#707048" opacity="0.7"/><path d="M85,129 C87.5,124.5 91,121.5 95.5,120.4 M88.5,134 L90.5,127.5 L96.5,125.8 M93,139 L93.5,131" stroke="#804a50" stroke-width="1" fill="none" opacity="0.8"/><path d="M82.5,135.5 C83.5,130 86,125 89.5,121.5" stroke="#4e8a58" stroke-width="1" fill="none" opacity="0.7"/><circle cx="85.5" cy="134" r="1.8" fill="#e8e8ee" opacity="0.8"/><path d="M114,126 C117,122 121,118 126,116 L127.5,140 L119,141.5 L113,137 Z" fill="#3448b4" opacity="0.85"/><path d="M83.5,138.2 C95,140.4 108,141.2 123,140.8" stroke="#3a9c92" stroke-width="1.8" fill="none"/><path d="M80.2,137.3 L92.6,141.4 L93.2,145.4 L87,145.2 C84,143.5 81.8,140.5 80.2,137.3 Z" fill="#b6b8d6"/><path d="M92.6,141.4 L111,142.2 L120,142 L119,145 L93.2,145.4 Z" fill="#5c5c7c"/><path d="M110.6,146.8 L119.2,146.1 L121,143.2 L122.8,141.4 L124.2,142.8 L122.3,147.3 L111.4,148.6 Z" fill="#121218"/><circle cx="108.4" cy="126.3" r="11.6" fill="#2a2838"/><circle cx="108.4" cy="126.3" r="10.7" fill="url(#gDisc)"/><g fill="#3a3a48"><circle cx="116.83" cy="128.01" r="0.85"/><circle cx="115.74" cy="130.79" r="0.85"/><circle cx="113.76" cy="133.03" r="0.85"/><circle cx="111.13" cy="134.45" r="0.85"/><circle cx="108.18" cy="134.90" r="0.85"/><circle cx="105.25" cy="134.30" r="0.85"/><circle cx="102.71" cy="132.75" r="0.85"/><circle cx="100.85" cy="130.41" r="0.85"/><circle cx="99.90" cy="127.58" r="0.85"/><circle cx="99.97" cy="124.59" r="0.85"/><circle cx="101.06" cy="121.81" r="0.85"/><circle cx="103.04" cy="119.57" r="0.85"/><circle cx="105.67" cy="118.15" r="0.85"/><circle cx="108.62" cy="117.70" r="0.85"/><circle cx="111.55" cy="118.30" r="0.85"/><circle cx="114.09" cy="119.85" r="0.85"/><circle cx="115.95" cy="122.19" r="0.85"/><circle cx="116.90" cy="125.02" r="0.85"/></g><path d="M111.5,116 C115.5,117.5 118.6,121.5 119.2,126 L114.5,126.5 L112,121 Z" fill="#34343e" opacity="0.85"/><g fill="none" stroke="#3a3a4a" stroke-width="0.9"><path d="M101,121 L103,119.5 M100,129 L102.5,130 M104,134.5 L106,133 M112,134 L113,136 M115.5,130 L117.5,131 M103,124.5 L100.5,125 M114,121 L116,119"/></g><circle cx="108.6" cy="126.8" r="5.3" fill="#e0e2ee" stroke="#4a4a5a" stroke-width="0.9"/><path d="M106,124.5 L110,123.8 M107,129.8 L111,129" stroke="#6a6a7a" stroke-width="0.8"/><circle cx="108.8" cy="127" r="1.3" fill="#505060"/><path d="M127,104 L152,98 L154,104 L155.5,113 L156,147 L150,157 L128,153 L123,140 Z" fill="#1b1a2c"/><path d="M120.5,104.2 C128,100.5 136,97.3 142.6,94.9 C148,93 153,90.8 157.6,89.3 L160.6,89.6 L160.4,91.6 L154.9,93.4 L155,101.2 L136,105.8 L124.5,109.5 Z" fill="#17172a"/><path d="M124,102.8 C131,99.6 138,96.8 145,94.3 M147.5,93.4 L151.5,92" stroke="#2a9cc0" stroke-width="0.9" fill="none" opacity="0.85"/><path d="M141,101.2 C133,102.4 127.2,106.5 124.6,116.5 C122.6,128 124.2,141 132.8,148.6 C139.5,153.6 149,154 158,153.4" stroke="#2c2468" stroke-width="7" fill="none"/><path d="M141,101.2 C133,102.4 127.2,106.5 124.6,116.5 C122.6,128 124.2,141 132.8,148.6 C139.5,153.6 149,154 158,153.4" stroke="url(#gC2)" stroke-width="5" fill="none"/><path d="M143,104.6 C136.5,105.4 131.2,109.5 129.2,118 C127.6,128 129,139 136,145.5 C142,150 149.5,150.4 157.5,150" stroke="#3a4aa8" stroke-width="1.6" fill="none"/><path d="M136.8,106.6 L151.5,104.3 Q153.3,104.1 153.6,106 L157.6,145.5 Q157.8,147.6 155.8,147.6 L138.6,147.2 Q136.8,147.1 136.7,145.2 L135.2,108.6 Q135.1,106.9 136.8,106.6 Z" fill="#6a2a86" stroke="#2a9a7a" stroke-width="1"/><g clip-path="url(#cpm0)" fill="#0e0c16"><polygon points="143.87,109.60 142.20,111.85 138.85,111.85 137.17,109.60 138.85,107.35 142.20,107.35"/><polygon points="151.47,109.60 149.80,111.85 146.45,111.85 144.77,109.60 146.45,107.35 149.80,107.35"/><polygon points="159.07,109.60 157.40,111.85 154.05,111.85 152.37,109.60 154.05,107.35 157.40,107.35"/><polygon points="140.54,114.80 138.87,117.05 135.52,117.05 133.84,114.80 135.52,112.55 138.87,112.55"/><polygon points="148.14,114.80 146.47,117.05 143.12,117.05 141.44,114.80 143.12,112.55 146.47,112.55" fill="#d4d6de"/><polygon points="155.74,114.80 154.07,117.05 150.72,117.05 149.04,114.80 150.72,112.55 154.07,112.55"/><polygon points="144.81,120.00 143.13,122.25 139.78,122.25 138.11,120.00 139.78,117.75 143.13,117.75"/><polygon points="152.41,120.00 150.73,122.25 147.38,122.25 145.71,120.00 147.38,117.75 150.73,117.75" fill="#d4d6de"/><polygon points="160.01,120.00 158.33,122.25 154.98,122.25 153.31,120.00 154.98,117.75 158.33,117.75"/><polygon points="141.48,125.20 139.80,127.45 136.45,127.45 134.78,125.20 136.45,122.95 139.80,122.95"/><polygon points="149.08,125.20 147.40,127.45 144.05,127.45 142.38,125.20 144.05,122.95 147.40,122.95"/><polygon points="156.68,125.20 155.00,127.45 151.65,127.45 149.98,125.20 151.65,122.95 155.00,122.95"/><polygon points="138.15,130.40 136.47,132.65 133.12,132.65 131.45,130.40 133.12,128.15 136.47,128.15"/><polygon points="145.75,130.40 144.07,132.65 140.72,132.65 139.05,130.40 140.72,128.15 144.07,128.15"/><polygon points="153.35,130.40 151.67,132.65 148.32,132.65 146.65,130.40 148.32,128.15 151.67,128.15"/><polygon points="160.95,130.40 159.27,132.65 155.92,132.65 154.25,130.40 155.92,128.15 159.27,128.15"/><polygon points="142.41,135.60 140.74,137.85 137.39,137.85 135.71,135.60 137.39,133.35 140.74,133.35"/><polygon points="150.01,135.60 148.34,137.85 144.99,137.85 143.31,135.60 144.99,133.35 148.34,133.35"/><polygon points="157.61,135.60 155.94,137.85 152.59,137.85 150.91,135.60 152.59,133.35 155.94,133.35"/><polygon points="139.08,140.80 137.41,143.05 134.06,143.05 132.38,140.80 134.06,138.55 137.41,138.55"/><polygon points="146.68,140.80 145.01,143.05 141.66,143.05 139.98,140.80 141.66,138.55 145.01,138.55"/><polygon points="154.28,140.80 152.61,143.05 149.26,143.05 147.58,140.80 149.26,138.55 152.61,138.55"/><polygon points="143.35,146.00 141.68,148.25 138.32,148.25 136.65,146.00 138.32,143.75 141.68,143.75"/><polygon points="150.95,146.00 149.28,148.25 145.92,148.25 144.25,146.00 145.92,143.75 149.28,143.75"/><polygon points="158.55,146.00 156.88,148.25 153.52,148.25 151.85,146.00 153.52,143.75 156.88,143.75"/></g><path d="M136.8,106.6 L151.5,104.3 Q153.3,104.1 153.6,106 L157.6,145.5 Q157.8,147.6 155.8,147.6 L138.6,147.2 Q136.8,147.1 136.7,145.2 L135.2,108.6 Q135.1,106.9 136.8,106.6 Z" fill="none" stroke="#2a9a7a" stroke-width="1"/><path d="M133,101.7 C139,99.4 146,97.6 152.6,96.3 L152.8,100.5 C146.5,101.5 140.5,103 135.4,105.2 Z" fill="url(#gTeal)" stroke="#101018" stroke-width="0.6"/><path d="M120.6,104.3 L130.5,100.6 L128,106.2 L122.6,110.4 Z" fill="#2a70d0"/><rect x="155.3" y="112.9" width="14.6" height="21.6" fill="url(#gSpool)"/><rect x="155.3" y="112.9" width="14.6" height="1.3" fill="#2a2434"/><rect x="158" y="116.8" width="11.9" height="10.9" fill="#4a585e"/><rect x="158" y="116.8" width="11.9" height="1.2" fill="#7a8890" opacity="0.7"/><rect x="155.3" y="113.5" width="2.7" height="20.8" fill="#b25ccc"/><path d="M155.5,134.5 L171,134.5 L171.5,149.5 L158,152.5 Z" fill="#131320"/><path d="M175.4,110.7 L179.6,111.6 C181.2,113.5 182,117 182,121.2 C182,125.5 181.2,129.3 179.6,131 L175.4,131.8 Z" fill="#586074"/><g fill="#d0d6e2"><rect x="178.4" y="113.6" width="2" height="2.2"/><rect x="179.2" y="118.6" width="2" height="2.4"/><rect x="178.6" y="124" width="2.2" height="2.2"/><rect x="177" y="128" width="2" height="1.8"/><rect x="176.2" y="116.4" width="1.4" height="4"/></g><ellipse cx="173.2" cy="123" rx="2.9" ry="19.8" transform="rotate(-7 173.2 123)" fill="#9a44bc" stroke="#1f9a6c" stroke-width="1.2"/><path d="M160.6,90.5 C161.6,96 162.6,101 163.3,106 C164.5,116 166,132 169,155" stroke="#5e6672" stroke-width="2.3" fill="none"/><path d="M160.6,90.5 C161.6,96 162.6,101 163.3,106 C164.5,116 166,132 169,155" stroke="#c4cad2" stroke-width="1.3" fill="none"/><circle cx="160.5" cy="89.9" r="1.8" fill="#1c202a" stroke="#7a8290" stroke-width="0.5"/><circle cx="160.8" cy="90.2" r="0.6" fill="#c8ccd8"/><path d="M138,155.5 L160,151 L170,152.5 L177,158 L174,161.8 L150,161 L140,158 Z" fill="#15141e"/><path d="M141.5,152 L158.8,150.2 L159.3,154 L142.3,155.6 Z" fill="#5ec4ea"/><circle cx="174.8" cy="156" r="4.9" fill="url(#gKnob)"/></g>
<line x1="74.5" y1="62.300000000000004" x2="74.5" y2="139.20000000000002" stroke="#1414f0" stroke-width="1.5"/><polygon points="74.5,56.6 72.6,62.800000000000004 76.4,62.800000000000004" fill="#1414f0"/><polygon points="74.5,144.9 72.6,138.70000000000002 76.4,138.70000000000002" fill="#1414f0"/>
<line x1="218.7" y1="58.800000000000004" x2="218.7" y2="139.4" stroke="#1414f0" stroke-width="1.5"/><polygon points="218.7,53.1 216.79999999999998,59.300000000000004 220.6,59.300000000000004" fill="#1414f0"/><polygon points="218.7,145.1 216.79999999999998,138.9 220.6,138.9" fill="#1414f0"/>
<line x1="366.6" y1="56.5" x2="366.6" y2="142.0" stroke="#1414f0" stroke-width="1.5"/><polygon points="366.6,50.8 364.70000000000005,57.0 368.5,57.0" fill="#1414f0"/><polygon points="366.6,147.7 364.70000000000005,141.5 368.5,141.5" fill="#1414f0"/>
<line x1="514.3" y1="57.300000000000004" x2="514.3" y2="144.10000000000002" stroke="#1414f0" stroke-width="1.5"/><polygon points="514.3,51.6 512.4,57.800000000000004 516.1999999999999,57.800000000000004" fill="#1414f0"/><polygon points="514.3,149.8 512.4,143.60000000000002 516.1999999999999,143.60000000000002" fill="#1414f0"/>
<line x1="185.0" y1="95.4" x2="185.0" y2="157.70000000000002" stroke="#ff1a1a" stroke-width="1.5"/><polygon points="185.0,89.7 183.1,95.9 186.9,95.9" fill="#ff1a1a"/><polygon points="185.0,163.4 183.1,157.20000000000002 186.9,157.20000000000002" fill="#ff1a1a"/>
<line x1="330.0" y1="93.7" x2="330.0" y2="157.70000000000002" stroke="#ff1a1a" stroke-width="1.5"/><polygon points="330.0,88.0 328.1,94.2 331.9,94.2" fill="#ff1a1a"/><polygon points="330.0,163.4 328.1,157.20000000000002 331.9,157.20000000000002" fill="#ff1a1a"/>
<line x1="482.2" y1="93.0" x2="482.2" y2="160.3" stroke="#ff1a1a" stroke-width="1.5"/><polygon points="482.2,87.3 480.3,93.5 484.09999999999997,93.5" fill="#ff1a1a"/><polygon points="482.2,166.0 480.3,159.8 484.09999999999997,159.8" fill="#ff1a1a"/>
<line x1="633.9" y1="94.60000000000001" x2="633.9" y2="165.20000000000002" stroke="#ff1a1a" stroke-width="1.5"/><polygon points="633.9,88.9 632.0,95.10000000000001 635.8,95.10000000000001" fill="#ff1a1a"/><polygon points="633.9,170.9 632.0,164.70000000000002 635.8,164.70000000000002" fill="#ff1a1a"/>
<line x1="86.89999999999999" y1="166.1" x2="178.3" y2="166.1" stroke="#22e622" stroke-width="1.5"/><polygon points="80.8,166.1 87.39999999999999,164.29999999999998 87.39999999999999,167.9" fill="#22e622"/><polygon points="184.4,166.1 177.8,164.29999999999998 177.8,167.9" fill="#22e622"/>
<line x1="228.5" y1="167.6" x2="320.29999999999995" y2="167.6" stroke="#22e622" stroke-width="1.5"/><polygon points="222.4,167.6 229.0,165.79999999999998 229.0,169.4" fill="#22e622"/><polygon points="326.4,167.6 319.79999999999995,165.79999999999998 319.79999999999995,169.4" fill="#22e622"/>
<line x1="376.3" y1="169.0" x2="472.4" y2="169.0" stroke="#22e622" stroke-width="1.5"/><polygon points="370.2,169.0 376.8,167.2 376.8,170.8" fill="#22e622"/><polygon points="478.5,169.0 471.9,167.2 471.9,170.8" fill="#22e622"/>
<line x1="526.5" y1="174.0" x2="625.6999999999999" y2="174.0" stroke="#22e622" stroke-width="1.5"/><polygon points="520.4,174.0 527.0,172.2 527.0,175.8" fill="#22e622"/><polygon points="631.8,174.0 625.1999999999999,172.2 625.1999999999999,175.8" fill="#22e622"/>
<text transform="translate(56.47,53.00) scale(0.970,1)" font-size="11.17" fill="#333" stroke="#333" stroke-width="0.3">102mm</text>
<text transform="translate(165.92,83.90) scale(0.999,1)" font-size="11.03" fill="#333" stroke="#333" stroke-width="0.3">83mm</text>
<text transform="translate(111.88,183.90) scale(1.024,1)" font-size="10.47" fill="#333" stroke="#333" stroke-width="0.3">115mm</text>
<text transform="translate(194.37,49.90) scale(1.009,1)" font-size="10.74" fill="#333" stroke="#333" stroke-width="0.3">103mm</text>
<text transform="translate(311.82,82.60) scale(0.986,1)" font-size="11.17" fill="#333" stroke="#333" stroke-width="0.3">86mm</text>
<text transform="translate(265.66,183.90) scale(1.040,1)" font-size="10.60" fill="#333" stroke="#333" stroke-width="0.3">116mm</text>
<text transform="translate(346.17,46.10) scale(1.009,1)" font-size="10.74" fill="#333" stroke="#333" stroke-width="0.3">109mm</text>
<text transform="translate(465.08,83.00) scale(1.055,1)" font-size="10.45" fill="#333" stroke="#333" stroke-width="0.3">90mm</text>
<text transform="translate(408.38,183.90) scale(1.014,1)" font-size="10.60" fill="#333" stroke="#333" stroke-width="0.3">122mm</text>
<text transform="translate(498.07,46.10) scale(1.012,1)" font-size="10.74" fill="#333" stroke="#333" stroke-width="0.3">109mm</text>
<text transform="translate(613.98,85.10) scale(1.100,1)" font-size="10.03" fill="#333" stroke="#333" stroke-width="0.3">93mm</text>
<text transform="translate(561.57,186.00) scale(1.084,1)" font-size="10.03" fill="#333" stroke="#333" stroke-width="0.3">123mm</text>
<rect x="100.95" y="191.35" width="55.20" height="17.20" rx="6.5" fill="none" stroke="#111" stroke-width="1.7"/>
<text transform="translate(111.04,205.90) scale(0.937,1)" font-size="16.18" fill="#111">1000</text>
<rect x="247.45" y="191.35" width="55.00" height="17.20" rx="6.5" fill="none" stroke="#111" stroke-width="1.7"/>
<text transform="translate(257.50,205.90) scale(0.981,1)" font-size="16.18" fill="#111">2000</text>
<rect x="394.15" y="191.35" width="54.80" height="17.20" rx="6.5" fill="none" stroke="#111" stroke-width="1.7"/>
<text transform="translate(404.51,205.90) scale(0.964,1)" font-size="16.18" fill="#111">3000</text>
<rect x="551.95" y="191.35" width="54.70" height="17.20" rx="6.5" fill="none" stroke="#111" stroke-width="1.7"/>
<text transform="translate(561.24,205.90) scale(0.966,1)" font-size="16.18" fill="#111">4000</text>
<rect x="10" y="220.9" width="680" height="1.3" fill="#3c3c3c"/>
<rect x="10" y="264.9" width="680" height="1.3" fill="#3c3c3c"/>
<rect x="10" y="305.7" width="680" height="1.3" fill="#3c3c3c"/>
<rect x="10" y="343.2" width="680" height="1.6" fill="#6a6a6a"/>
<rect x="10" y="380.9" width="680" height="1.6" fill="#6a6a6a"/>
<rect x="10" y="420.2" width="680" height="1.6" fill="#6a6a6a"/>
<rect x="68.1" y="221.5" width="1.8" height="199.5" fill="#8a8a8a"/>
<rect x="160.75" y="221.5" width="1.3" height="199.5" fill="#3c3c3c"/>
<rect x="240.5" y="221.5" width="1.4" height="199.5" fill="#3c3c3c"/>
<rect x="381.1" y="221.5" width="1.8" height="199.5" fill="#8a8a8a"/>
<rect x="470.85" y="221.5" width="1.3" height="199.5" fill="#3c3c3c"/>
<text transform="translate(14.43,250.80) scale(1.020,1)" font-size="17.60" fill="#000">Model</text>
<text transform="translate(72.52,251.00) scale(0.989,1)" font-size="17.60" fill="#000">Gear Ratio</text>
<text transform="translate(171.32,240.60) scale(1.021,1)" font-size="17.60" fill="#000">Weight</text>
<text transform="translate(243.41,240.60) scale(1.033,1)" font-size="17.60" fill="#000">Package Weight</text>
<text transform="translate(391.71,249.90) scale(1.033,1)" font-size="17.60" fill="#000">Bearings</text>
<text transform="translate(525.52,240.40) scale(1.025,1)" font-size="17.60" fill="#000">Line Capacity</text>
<text transform="translate(177.72,259.20) scale(0.987,1)" font-size="14.00" fill="#000">&lt;g/oz&gt;</text>
<text transform="translate(288.62,259.20) scale(0.980,1)" font-size="14.00" fill="#000">&lt;g/oz&gt;</text>
<text transform="translate(524.21,259.20) scale(0.994,1)" font-size="14.00" fill="#000">&lt;mm/M&gt;&lt;lbs/yds&gt;</text>
<text transform="translate(19.61,295.10) scale(1.000,1)" font-size="17.50" fill="#000">1000</text>
<text transform="translate(95.62,295.10) scale(1.000,1)" font-size="17.50" fill="#000">5.2:1</text>
<text transform="translate(170.82,295.10) scale(1.000,1)" font-size="17.50" fill="#000">240/8.4</text>
<text transform="translate(276.29,295.10) scale(1.000,1)" font-size="17.50" fill="#000">335/11.8</text>
<text transform="translate(408.25,295.10) scale(1.000,1)" font-size="17.50" fill="#000">13+1</text>
<text transform="translate(486.63,284.30) scale(1.090,1)" font-size="14.20" fill="#000">0.20/250 0.25/170 0.30/110</text>
<text transform="translate(514.51,301.70) scale(1.090,1)" font-size="14.20" fill="#000">6/270 8/185 10/120</text>
<text transform="translate(19.84,332.50) scale(1.000,1)" font-size="17.50" fill="#000">2000</text>
<text transform="translate(95.62,332.50) scale(1.000,1)" font-size="17.50" fill="#000">5.2:1</text>
<text transform="translate(170.95,332.50) scale(1.000,1)" font-size="17.50" fill="#000">246/8.6</text>
<text transform="translate(276.25,332.50) scale(1.000,1)" font-size="17.50" fill="#000">343/12.0</text>
<text transform="translate(408.25,332.50) scale(1.000,1)" font-size="17.50" fill="#000">13+1</text>
<text transform="translate(486.63,322.10) scale(1.090,1)" font-size="14.20" fill="#000">0.20/310 0.25/200 0.30/140</text>
<text transform="translate(514.51,339.90) scale(1.090,1)" font-size="14.20" fill="#000">6/340 8/220 10/150</text>
<text transform="translate(19.94,369.60) scale(1.000,1)" font-size="17.50" fill="#000">3000</text>
<text transform="translate(95.62,369.60) scale(1.000,1)" font-size="17.50" fill="#000">5.2:1</text>
<text transform="translate(171.01,369.60) scale(1.000,1)" font-size="17.50" fill="#000">276/9.7</text>
<text transform="translate(276.29,369.60) scale(1.000,1)" font-size="17.50" fill="#000">365/12.8</text>
<text transform="translate(408.25,369.60) scale(1.000,1)" font-size="17.50" fill="#000">13+1</text>
<text transform="translate(486.65,359.90) scale(1.090,1)" font-size="14.20" fill="#000">0.25/250 0.30/170 0.35/135</text>
<text transform="translate(510.26,377.70) scale(1.090,1)" font-size="14.20" fill="#000">8/270 10/185 12/150</text>
<text transform="translate(20.08,406.20) scale(1.000,1)" font-size="17.50" fill="#000">4000</text>
<text transform="translate(95.62,406.20) scale(1.000,1)" font-size="17.50" fill="#000">5.2:1</text>
<text transform="translate(166.13,406.20) scale(1.000,1)" font-size="17.50" fill="#000">287/10.1</text>
<text transform="translate(276.27,406.20) scale(1.000,1)" font-size="17.50" fill="#000">385/13.5</text>
<text transform="translate(408.25,406.20) scale(1.000,1)" font-size="17.50" fill="#000">13+1</text>
<text transform="translate(486.63,397.70) scale(1.090,1)" font-size="14.20" fill="#000">0.30/220 0.35/170 0.40/130</text>
<text transform="translate(505.70,415.50) scale(1.090,1)" font-size="14.20" fill="#000">10/240 12/185 15/140</text>
</svg></body></html>
